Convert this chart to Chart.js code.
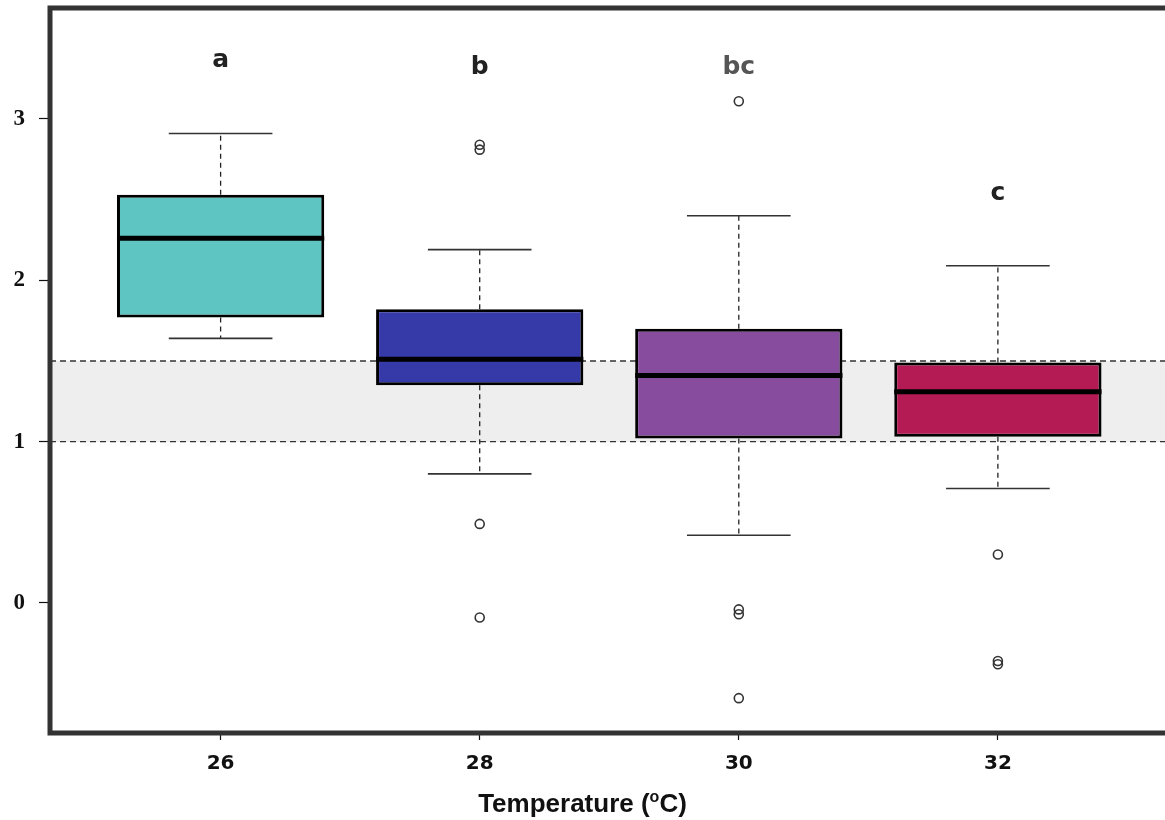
<!DOCTYPE html>
<html>
<head>
<meta charset="utf-8">
<title>Temperature box plot</title>
<script src="https://cdn.jsdelivr.net/npm/chart.js@4/dist/chart.umd.min.js"></script>
<style>
  html, body { margin: 0; padding: 0; background: #ffffff; }
  #wrap { width: 1165px; height: 820px; }
</style>
</head>
<body>
<div id="wrap"><canvas id="chart" width="1165" height="820"></canvas></div>
<script>
// Temperature groups (°C)
const temperatures = [26, 28, 30, 32];

// Five-number summaries per group
const whiskerLow  = [1.64, 0.80, 0.42, 0.71];
const quartile1   = [1.77, 1.35, 1.02, 1.03];
const medians     = [2.26, 1.51, 1.41, 1.31];
const quartile3   = [2.53, 1.82, 1.70, 1.49];
const whiskerHigh = [2.91, 2.19, 2.40, 2.09];

// Points beyond the whiskers
const outliers = [
  [],
  [2.84, 2.81, 0.49, -0.09],
  [3.11, -0.04, -0.07, -0.59],
  [0.30, -0.36, -0.38]
];

// Significance letters above each group
const groupLetters = ['a', 'b', 'bc', 'c'];
const letterLevels = [3.32, 3.28, 3.28, 2.50];
const letterColors = ['#222222', '#222222', '#555555', '#222222'];

// Reference band
const bandLow = 1.0;
const bandHigh = 1.5;

// Axis ticks
const yTicks = [0, 1, 2, 3];

const boxColors = ['#5ec5c2', '#3639a8', '#884c9f', '#b41a53'];

const X_MIN = 24.683, X_MAX = 33.29;
const Y_MIN = -0.806, Y_MAX = 3.688;
const BOX_HALF = 0.8;     // half box width, in °C units (bars take 80% of the 2° spacing)
const CAP_HALF = 0.4;     // half staple width

// Line segments built from the summaries (null breaks the path)
function segments(fn) {
  const pts = [];
  temperatures.forEach((t, i) => {
    fn(t, i).forEach(p => pts.push(p));
    pts.push({ x: t, y: null });
  });
  return pts;
}

const whiskerPts = segments((t, i) => [
  { x: t, y: quartile3[i] }, { x: t, y: whiskerHigh[i] }, { x: t, y: null },
  { x: t, y: quartile1[i] }, { x: t, y: whiskerLow[i] }
]);
const capPts = segments((t, i) => [
  { x: t - CAP_HALF, y: whiskerHigh[i] }, { x: t + CAP_HALF, y: whiskerHigh[i] }, { x: t, y: null },
  { x: t - CAP_HALF, y: whiskerLow[i] }, { x: t + CAP_HALF, y: whiskerLow[i] }
]);
const medianPts = segments((t, i) => [
  { x: t - BOX_HALF, y: medians[i] }, { x: t + BOX_HALF, y: medians[i] }
]);
const outlierPts = [];
outliers.forEach((vals, i) => vals.forEach(v => outlierPts.push({ x: temperatures[i], y: v })));

// Frame on left, top and bottom of the plotting area
const framePlugin = {
  id: 'frame',
  afterDraw(chart) {
    const { ctx, chartArea: a } = chart;
    ctx.save();
    ctx.strokeStyle = '#333333';
    ctx.lineWidth = 5;
    ctx.lineJoin = 'miter';
    ctx.beginPath();
    ctx.moveTo(a.right + 10, a.top);
    ctx.lineTo(a.left, a.top);
    ctx.lineTo(a.left, a.bottom);
    ctx.lineTo(a.right + 10, a.bottom);
    ctx.stroke();
    ctx.restore();
  }
};

// Group letters and the axis title with its superscript degree mark
const textPlugin = {
  id: 'texts',
  afterDraw(chart) {
    const { ctx } = chart;
    const xs = chart.scales.x, ys = chart.scales.y;
    ctx.save();
    ctx.font = 'bold 25px "DejaVu Sans"';
    ctx.textAlign = 'center';
    ctx.textBaseline = 'alphabetic';
    groupLetters.forEach((l, i) => {
      ctx.fillStyle = letterColors[i];
      ctx.fillText(l, xs.getPixelForValue(temperatures[i]), ys.getPixelForValue(letterLevels[i]));
    });

    const main = 'bold 26px "Liberation Sans"';
    const sup = 'bold 16px "Liberation Sans"';
    const parts = [['Temperature (', main, 0], ['o', sup, -10], ['C)', main, 0]];
    let total = 0;
    parts.forEach(p => { ctx.font = p[1]; total += ctx.measureText(p[0]).width; });
    let x = chart.width / 2 - total / 2;
    const baseY = 812;
    ctx.textAlign = 'left';
    ctx.fillStyle = '#111111';
    parts.forEach(p => {
      ctx.font = p[1];
      ctx.fillText(p[0], x, baseY + p[2]);
      x += ctx.measureText(p[0]).width;
    });
    ctx.restore();
  }
};

new Chart(document.getElementById('chart'), {
  type: 'bar',
  data: {
    datasets: [
      {
        type: 'line', label: 'band high', order: 20,
        data: [{ x: X_MIN, y: bandHigh }, { x: X_MAX, y: bandHigh }],
        borderColor: '#333333', borderWidth: 1.3, borderDash: [6, 4],
        backgroundColor: '#eeeeee', fill: '+1', pointRadius: 0
      },
      {
        type: 'line', label: 'band low', order: 19,
        data: [{ x: X_MIN, y: bandLow }, { x: X_MAX, y: bandLow }],
        borderColor: '#333333', borderWidth: 1.3, borderDash: [6, 4],
        fill: false, pointRadius: 0
      },
      {
        type: 'line', label: 'whiskers', order: 15,
        data: whiskerPts, spanGaps: false,
        borderColor: '#222222', borderWidth: 1.3, borderDash: [5, 4],
        fill: false, pointRadius: 0
      },
      {
        type: 'line', label: 'caps', order: 14,
        data: capPts, spanGaps: false,
        borderColor: '#333333', borderWidth: 1.6,
        fill: false, pointRadius: 0
      },
      {
        type: 'bar', label: 'boxes', order: 10,
        data: temperatures.map((t, i) => ({ x: t, y: [quartile1[i], quartile3[i]] })),
        backgroundColor: boxColors, borderColor: '#000000', borderWidth: 3,
        borderSkipped: false, barPercentage: 0.8, categoryPercentage: 1.0, grouped: false
      },
      {
        type: 'line', label: 'medians', order: 5,
        data: medianPts, spanGaps: false,
        borderColor: '#000000', borderWidth: 5, borderCapStyle: 'butt',
        fill: false, pointRadius: 0
      },
      {
        type: 'scatter', label: 'outliers', order: 1,
        data: outlierPts,
        pointStyle: 'circle', pointRadius: 4.5, borderWidth: 1.6,
        borderColor: '#333333', backgroundColor: 'rgba(0,0,0,0)'
      }
    ]
  },
  options: {
    responsive: false,
    animation: false,
    events: [],
    layout: { autoPadding: false, padding: { top: 8, right: 0, left: 0, bottom: 0 } },
    plugins: { legend: { display: false }, tooltip: { enabled: false } },
    scales: {
      x: {
        type: 'linear', min: X_MIN, max: X_MAX, offset: false,
        afterBuildTicks: s => { s.ticks = temperatures.map(v => ({ value: v })); },
        afterFit: s => { s.height = 87; s.paddingLeft = 0; s.paddingRight = 0; },
        border: { display: false },
        grid: { offset: false, drawOnChartArea: false, drawTicks: true, tickLength: 7, tickColor: '#111111', tickWidth: 1.2 },
        ticks: {
          autoSkip: false, maxRotation: 0, padding: 12, color: '#111111',
          font: { family: '"DejaVu Sans"', weight: 'bold', size: 20 },
          callback: v => String(v)
        }
      },
      y: {
        type: 'linear', min: Y_MIN, max: Y_MAX,
        afterBuildTicks: s => { s.ticks = yTicks.map(v => ({ value: v })); },
        afterFit: s => { s.width = 50; s.paddingTop = 0; s.paddingBottom = 0; },
        border: { display: false },
        grid: { drawOnChartArea: false, drawTicks: true, tickLength: 11, tickColor: '#111111', tickWidth: 1.2 },
        ticks: {
          padding: 14, color: '#111111',
          font: { family: '"Liberation Serif"', weight: 'bold', size: 23 },
          callback: v => String(v)
        }
      }
    }
  },
  plugins: [framePlugin, textPlugin]
});
</script>
</body>
</html>
